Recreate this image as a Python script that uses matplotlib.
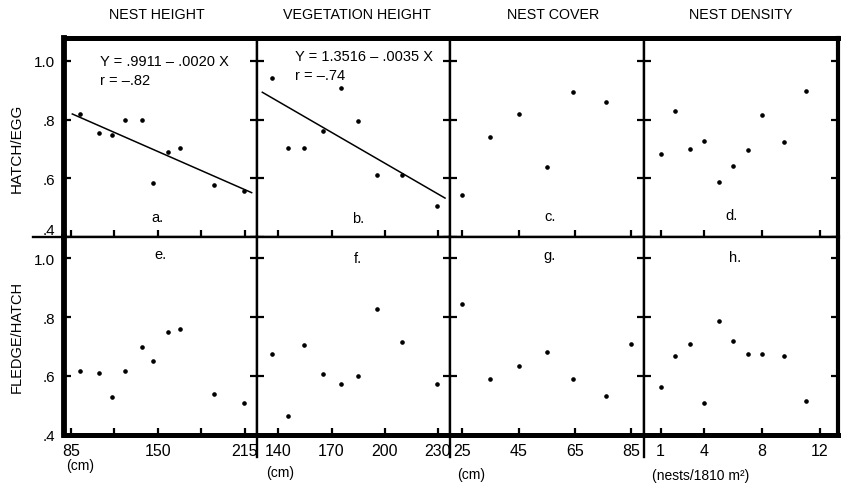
import matplotlib.pyplot as plt
from matplotlib.lines import Line2D

plt.rcParams['font.family'] = ['Liberation Sans', 'DejaVu Sans']

W, H = 841, 485

# Column titles and x-axis settings
titles = ["NEST HEIGHT", "VEGETATION HEIGHT", "NEST COVER", "NEST DENSITY"]
units = ["(cm)", "(cm)", "(cm)", "(nests/1810 m²)"]
x_ticks = [[85, 117.5, 150, 182.5, 215], [140, 170, 200, 230],
           [25, 45, 65, 85], [1, 4, 8, 12]]
x_ticklabels = [["85", "", "150", "", "215"], ["140", "170", "200", "230"],
                ["25", "45", "65", "85"], ["1", "4", "8", "12"]]
x_limits = [(79.4, 224), (128, 236.8), (20.6, 89.6), (-0.14, 13.24)]
y_ticks = [0.4, 0.6, 0.8, 1.0]
y_ticklabels = [".4", ".6", ".8", "1.0"]

# Nest height
nest_height = [92, 106, 116, 125, 138, 146, 157.5, 166.5, 192, 214.5]
hatch_nh = [0.819, 0.756, 0.747, 0.799, 0.798, 0.585, 0.690, 0.702, 0.576, 0.557]
fledge_nh = [0.617, 0.609, 0.529, 0.616, 0.697, 0.652, 0.748, 0.758, 0.538, 0.508]

# Vegetation height
veg_height = [136.3, 145.6, 154.3, 165.3, 175.2, 185, 195.8, 209.7, 229.6]
hatch_vh = [0.941, 0.704, 0.704, 0.761, 0.907, 0.796, 0.610, 0.610, 0.505]
fledge_vh = [0.673, 0.462, 0.706, 0.607, 0.572, 0.600, 0.826, 0.714, 0.572]

# Nest cover
cover_h = [25, 35, 45, 55, 64.5, 76]
hatch_nc = [0.543, 0.740, 0.818, 0.640, 0.893, 0.860]
cover_f = [25, 35, 45, 55, 64.5, 76, 85]
fledge_nc = [0.843, 0.589, 0.632, 0.680, 0.589, 0.530, 0.710]

# Nest density
density = [1, 2, 3, 4, 5, 6, 7, 8, 9.5, 11]
hatch_nd = [0.684, 0.829, 0.700, 0.726, 0.589, 0.641, 0.698, 0.816, 0.722, 0.897]
fledge_nd = [0.562, 0.669, 0.710, 0.506, 0.788, 0.720, 0.673, 0.675, 0.668, 0.513]

# Regression lines (intercept, slope, x range)
fit_a = (0.9911, -0.0020, [86, 220])
fit_b = (1.3516, -0.0035, [131, 234])

top_x = [nest_height, veg_height, cover_h, density]
top_y = [hatch_nh, hatch_vh, hatch_nc, hatch_nd]
bot_x = [nest_height, veg_height, cover_f, density]
bot_y = [fledge_nh, fledge_vh, fledge_nc, fledge_nd]
letters_top = ["a.", "b.", "c.", "d."]
letters_bot = ["e.", "f.", "g.", "h."]

# Layout in pixels
col_edges = [63.5, 257, 450, 644, 838]
row_edges = [39, 238, 435.5]

fig = plt.figure(figsize=(W / 100, H / 100), dpi=100)


def px_axes(x0, y0, x1, y1):
    return fig.add_axes([x0 / W, 1 - y1 / H, (x1 - x0) / W, (y1 - y0) / H])


def fig_text(x, y, s, **kw):
    fig.text(x / W, 1 - y / H, s, **kw)


THICK, THIN = 3.6, 1.7

for r in range(2):
    for c in range(4):
        ax = px_axes(col_edges[c], row_edges[r], col_edges[c + 1], row_edges[r + 1])
        xs = top_x[c] if r == 0 else bot_x[c]
        ys = top_y[c] if r == 0 else bot_y[c]
        ax.plot(xs, ys, 'o', color='black', ms=2.3, ls='none')
        ax.set_xlim(*x_limits[c])
        ax.set_ylim(0.4, 1.078 if r == 0 else 1.073)
        ax.set_xticks(x_ticks[c])
        ax.set_yticks(y_ticks)
        ax.tick_params(axis='both', direction='in', length=5, width=1.6,
                       labelsize=11.5, pad=6)
        ax.tick_params(axis='y', left=True, right=True, pad=6, labelsize=11)
        ax.tick_params(axis='x', top=False)
        if r == 1:
            ax.set_xticklabels(x_ticklabels[c])
        else:
            ax.set_xticklabels([])
        if c == 0:
            ax.set_yticklabels(y_ticklabels)
            if r == 0:
                # the lowest label sits on the row divider
                ax.get_yticklabels()[0].set_va('bottom')
        else:
            ax.set_yticklabels([])
        for side in ['left', 'right', 'top', 'bottom']:
            ax.spines[side].set_linewidth(THIN)
        if c == 0:
            ax.spines['left'].set_linewidth(THICK + 0.6)
        if c == 3:
            ax.spines['right'].set_linewidth(THICK - 0.6)
        if r == 0:
            ax.spines['top'].set_linewidth(THICK)
        else:
            ax.spines['bottom'].set_linewidth(THICK)

        if r == 0 and c == 0:
            b0, b1, lx = fit_a
            ax.plot(lx, [b0 + b1 * v for v in lx], color='black', lw=1.1)
        if r == 0 and c == 1:
            b0, b1, lx = fit_b
            ax.plot(lx, [b0 + b1 * v for v in lx], color='black', lw=1.1)

# Column titles
title_pos = [157, 357, 553, 741]
for t, x in zip(titles, title_pos):
    fig_text(x, 15, t, ha='center', va='center', fontsize=10.3)

# Units under the x axes
unit_pos = [(80, 466), (280, 473), (471, 475), (701, 476)]
for u, (x, y) in zip(units, unit_pos):
    fig_text(x, y, u, ha='center', va='center', fontsize=10)

# Row labels
fig_text(17, 148, "HATCH/EGG", rotation=90, ha='center', va='center', fontsize=11)
fig_text(17, 337, "FLEDGE/HATCH", rotation=90, ha='center', va='center', fontsize=10.5)

# Panel letters
letter_pos_top = [(157, 218), (358, 219), (550, 217), (731, 216)]
letter_pos_bot = [(160, 255), (358, 259), (549, 256), (735, 258)]
for s, (x, y) in zip(letters_top + letters_bot, letter_pos_top + letter_pos_bot):
    fig_text(x, y, s, ha='center', va='center', fontsize=10.5)

# Regression equations
fig_text(100, 62, "Y = .9911 – .0020 X", ha='left', va='center', fontsize=10.5)
fig_text(100, 81, "r = –.82", ha='left', va='center', fontsize=10.5)
fig_text(295, 57, "Y = 1.3516 – .0035 X", ha='left', va='center', fontsize=10.5)
fig_text(295, 76, "r = –.74", ha='left', va='center', fontsize=10.5)

# Extended frame lines
fig.add_artist(Line2D([33 / W, col_edges[0] / W], [1 - row_edges[1] / H] * 2,
                      color='black', lw=THIN))
for x in col_edges[1:4]:
    fig.add_artist(Line2D([x / W] * 2, [1 - row_edges[2] / H, 1 - 458 / H],
                          color='black', lw=THIN))

fig.savefig("out.png", dpi=100)
